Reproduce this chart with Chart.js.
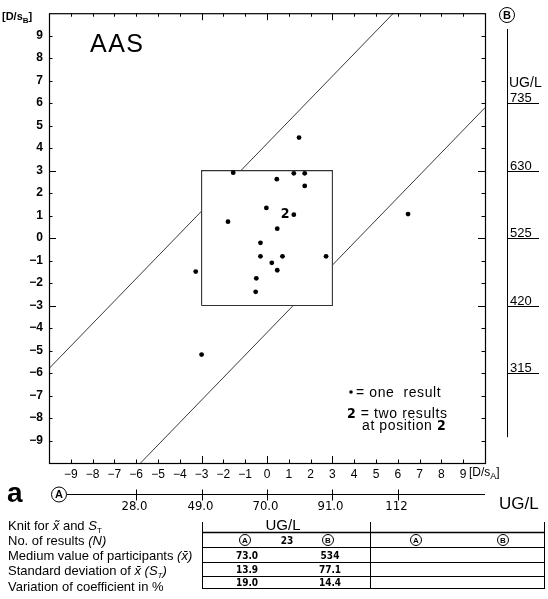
<!DOCTYPE html>
<html><head><meta charset="utf-8">
<script src="https://cdn.jsdelivr.net/npm/chart.js@4.4.1/dist/chart.umd.min.js"></script>
<style>html,body{margin:0;padding:0;background:#fff;overflow:hidden}#wrap{width:548px;height:599px;position:relative}</style>
</head><body><div id="wrap"><canvas id="c" width="548" height="599"></canvas></div>
<script>
// ---- data (D/s units) ----
const resultsX = [-1.55, 0.45, 1.23, 1.73, 1.73, 1.47, -0.03, 1.23, -1.79, 0.47, -0.30, -0.30, 0.71, 2.71, 0.22, 0.47, -0.49, -0.52, -3.27, -3.00, 6.47];
const resultsY = [2.91, 2.62, 2.88, 2.88, 2.32, 4.47, 1.34, 1.04, 0.73, 0.42, -0.21, -0.81, -0.81, -0.81, -1.10, -1.43, -1.79, -2.39, -1.49, -5.18, 1.07];
const doubleX = [0.83];
const doubleY = [1.05];
const doubleCount = ['2'];
const boxX = [-3, 3, 3, -3, -3];
const boxY = [-3, -3, 3, 3, -3];
const upperLineX = [-10, -3, null, -1.2, 5.8];
const upperLineY = [-5.8, 1.2, null, 3, 10];
const lowerLineX = [-5.8, 1.2, null, 3, 10];
const lowerLineY = [-10, -3, null, -1.2, 5.8];
const dTicks = [-9, -8, -7, -6, -5, -4, -3, -2, -1, 0, 1, 2, 3, 4, 5, 6, 7, 8, 9];
const axisAPos = [-6, -3, 0, 3, 6];
const axisALabels = ['28.0', '49.0', '70.0', '91.0', '112'];
const axisBPos = [-6, -3, 0, 3, 6];
const axisBLabels = ['315', '420', '525', '630', '735'];
const nResults = '23';
const valuesA = ['73.0', '13.9', '19.0'];
const valuesB = ['534', '77.1', '14.4'];

// ---- helpers ----
function toPts(xs, ys) { return xs.map((x, i) => ({ x: x, y: ys[i] })); }
function segments(xs, ys) {
  const out = []; let cur = [];
  xs.forEach((x, i) => { if (x === null) { out.push(cur); cur = []; } else cur.push({ x: x, y: ys[i] }); });
  out.push(cur); return out;
}
const F = "'Liberation Sans', Arial, Helvetica, sans-serif";
const FN = "'Liberation Sans Narrow', 'DejaVu Sans Condensed', 'Liberation Sans', sans-serif";

function runs(ctx, x, y, parts) {
  ctx.textBaseline = 'alphabetic'; ctx.textAlign = 'left';
  parts.forEach(p => {
    ctx.font = p.f;
    const dy = p.sub ? 3 : 0;
    ctx.fillText(p.t, x, y + dy);
    x += ctx.measureText(p.t).width;
  });
}
function circ(ctx, cx, cy, r, letter, font) {
  ctx.beginPath(); ctx.arc(cx, cy, r, 0, Math.PI * 2); ctx.lineWidth = 1; ctx.strokeStyle = '#000'; ctx.stroke();
  ctx.font = font; ctx.textAlign = 'center'; ctx.textBaseline = 'middle'; ctx.fillText(letter, cx, cy + 0.5);
}
function minus(v) { return v < 0 ? '\u2212' + (-v) : '' + v; }

const datasets = [
  { label: 'results', data: toPts(resultsX, resultsY), showLine: false, pointRadius: 2.4, pointBackgroundColor: '#000', pointBorderWidth: 0 },
  { label: 'box', data: toPts(boxX, boxY), showLine: true, pointRadius: 0, borderColor: '#333', borderWidth: 1.1, fill: false }
];
segments(upperLineX, upperLineY).concat(segments(lowerLineX, lowerLineY)).forEach(seg => {
  datasets.push({ label: 'limit', data: seg, showLine: true, pointRadius: 0, borderColor: '#222', borderWidth: 0.9, fill: false });
});

const decor = {
  id: 'decor',
  afterDatasetsDraw(chart) {
    const ctx = chart.ctx, a = chart.chartArea, sx = chart.scales.x, sy = chart.scales.y;
    ctx.save();
    ctx.fillStyle = '#000'; ctx.strokeStyle = '#000';
    // frame
    ctx.lineWidth = 1.2;
    ctx.strokeRect(a.left + 0.5, a.top + 0.5, a.right - a.left, a.bottom - a.top);
    // inward ticks
    ctx.lineWidth = 1;
    dTicks.forEach(v => {
      const len = (v === 0 || Math.abs(v) === 3) ? 7 : 3.5;
      const px = Math.round(sx.getPixelForValue(v)) + 0.5, py = Math.round(sy.getPixelForValue(v)) + 0.5;
      ctx.beginPath();
      ctx.moveTo(px, a.bottom); ctx.lineTo(px, a.bottom - len);
      ctx.moveTo(px, a.top); ctx.lineTo(px, a.top + len);
      ctx.moveTo(a.left, py); ctx.lineTo(a.left + len, py);
      ctx.moveTo(a.right, py); ctx.lineTo(a.right - len, py);
      ctx.stroke();
    });
    // axis titles
    runs(ctx, 2, 20, [{ t: '[D/s', f: 'bold 11px ' + F }, { t: 'B', f: 'bold 8px ' + F, sub: true }, { t: ']', f: 'bold 11px ' + F }]);
    runs(ctx, 469, 476, [{ t: '[D/s', f: '12px ' + F }, { t: 'A', f: '9px ' + F, sub: true }, { t: ']', f: '12px ' + F }]);
    // AAS
    ctx.font = '25px ' + F; ctx.textAlign = 'left'; ctx.textBaseline = 'alphabetic';
    if ('letterSpacing' in ctx) ctx.letterSpacing = '1.5px';
    ctx.fillText('AAS', 90, 52);
    if ('letterSpacing' in ctx) ctx.letterSpacing = '0px';
    // double-result markers
    doubleX.forEach((x, i) => {
      ctx.font = 'bold 14px ' + FN; ctx.textAlign = 'center'; ctx.textBaseline = 'middle';
      ctx.fillText(doubleCount[i], sx.getPixelForValue(x), sy.getPixelForValue(doubleY[i]));
    });
    // legend
    if ('letterSpacing' in ctx) ctx.letterSpacing = '0.6px';
    ctx.beginPath(); ctx.arc(351, 392, 1.8, 0, Math.PI * 2); ctx.fill();
    runs(ctx, 356, 397, [{ t: '= one  result', f: '14px ' + F }]);
    runs(ctx, 347, 418, [{ t: '2', f: 'bold 14px ' + FN }, { t: ' = two results', f: '14px ' + F }]);
    runs(ctx, 362, 430, [{ t: 'at position ', f: '14px ' + F }, { t: '2', f: 'bold 14px ' + FN }]);
    if ('letterSpacing' in ctx) ctx.letterSpacing = '0px';
    // B axis
    const xb = a.right + 22;
    ctx.lineWidth = 1;
    ctx.beginPath(); ctx.moveTo(xb + 0.5, sy.getPixelForValue(9.3)); ctx.lineTo(xb + 0.5, sy.getPixelForValue(-8.85)); ctx.stroke();
    ctx.fillStyle = '#000';
    circ(ctx, xb, 15, 7.5, 'B', 'bold 11px ' + F);
    axisBPos.forEach((v, i) => {
      const py = Math.round(sy.getPixelForValue(v)) + 0.5;
      ctx.beginPath(); ctx.moveTo(xb, py); ctx.lineTo(xb + 32, py); ctx.stroke();
      ctx.font = '13px ' + F; ctx.textAlign = 'left'; ctx.textBaseline = 'alphabetic';
      ctx.fillText(axisBLabels[i], xb + 3, py - 2);
    });
    ctx.font = '14px ' + F; ctx.textAlign = 'left'; ctx.textBaseline = 'alphabetic';
    ctx.fillText('UG/L', xb + 2, sy.getPixelForValue(6) - 16);
    // A axis
    const ya = 494.5;
    ctx.font = 'bold 28px ' + F; ctx.textAlign = 'left'; ctx.textBaseline = 'alphabetic';
    ctx.fillText('a', 7, 502);
    circ(ctx, 59, ya, 7.5, 'A', 'bold 11px ' + F);
    ctx.beginPath(); ctx.moveTo(67, ya); ctx.lineTo(a.right, ya); ctx.stroke();
    axisAPos.forEach((v, i) => {
      const px = Math.round(sx.getPixelForValue(v)) + 0.5;
      ctx.beginPath(); ctx.moveTo(px, ya - 5); ctx.lineTo(px, ya + 6); ctx.stroke();
      ctx.font = '13px ' + FN; ctx.textAlign = 'center'; ctx.textBaseline = 'alphabetic';
      ctx.fillText(axisALabels[i], px - 2, ya + 15);
    });
    ctx.font = '17px ' + F; ctx.textAlign = 'left';
    ctx.fillText('UG/L', 499, 509);
    // left row labels
    const f12 = '13px ' + F, i12 = 'italic 13px ' + F;
    runs(ctx, 8, 530, [{ t: 'Knit for ', f: f12 }, { t: 'x\u0303', f: i12 }, { t: ' and ', f: f12 }, { t: 'S', f: i12 }, { t: 'T', f: '8px ' + F, sub: true }]);
    runs(ctx, 8, 545, [{ t: 'No. of results ', f: f12 }, { t: '(N)', f: i12 }]);
    runs(ctx, 8, 560, [{ t: 'Medium value of participants ', f: f12 }, { t: '(x\u0304)', f: i12 }]);
    runs(ctx, 8, 575, [{ t: 'Standard deviation of ', f: f12 }, { t: 'x\u0304', f: i12 }, { t: ' (S', f: i12 }, { t: 'T', f: 'italic 8px ' + F, sub: true }, { t: ')', f: i12 }]);
    runs(ctx, 8, 591, [{ t: 'Variation of coefficient in %', f: f12 }]);
    // table
    const L = 202.5, M = 370.5, R = 544.5;
    ctx.lineWidth = 1;
    [L, M, R].forEach(x => { ctx.beginPath(); ctx.moveTo(x, 522); ctx.lineTo(x, 589); ctx.stroke(); });
    [[532.5, 1.6], [547.5, 1], [562.5, 1], [576.5, 1], [588.5, 1]].forEach(([y, w]) => {
      ctx.lineWidth = w; ctx.beginPath(); ctx.moveTo(L, y); ctx.lineTo(R, y); ctx.stroke();
    });
    ctx.font = '15px ' + F; ctx.textAlign = 'center'; ctx.textBaseline = 'alphabetic';
    ctx.fillText('UG/L', 283, 530);
    circ(ctx, 245, 540, 5.5, 'A', 'bold 8px ' + F);
    circ(ctx, 328, 540, 5.5, 'B', 'bold 8px ' + F);
    circ(ctx, 416, 540, 5.5, 'A', 'bold 8px ' + F);
    circ(ctx, 503, 540, 5.5, 'B', 'bold 8px ' + F);
    ctx.font = 'bold 10px ' + FN; ctx.textAlign = 'center'; ctx.textBaseline = 'alphabetic';
    ctx.fillText(nResults, 287, 544);
    const rowY = [559, 573, 586];
    valuesA.forEach((t, i) => ctx.fillText(t, 247, rowY[i]));
    valuesB.forEach((t, i) => ctx.fillText(t, 330, rowY[i]));
    ctx.restore();
  }
};

new Chart(document.getElementById('c'), {
  type: 'scatter',
  data: { datasets: datasets },
  options: {
    responsive: false, animation: false, devicePixelRatio: 1,
    layout: { padding: { top: 13, right: 63, left: 0, bottom: 0 } },
    plugins: { legend: { display: false }, tooltip: { enabled: false } },
    scales: {
      x: {
        type: 'linear', position: 'bottom', min: -10, max: 10,
        grid: { display: false, drawTicks: false }, border: { display: false },
        afterBuildTicks: s => { s.ticks = dTicks.map(v => ({ value: v })); },
        afterFit: s => { s.height = 136; },
        ticks: { color: '#000', padding: 4, autoSkip: false, maxRotation: 0, font: { family: F, size: 12 }, callback: v => minus(v) }
      },
      y: {
        type: 'linear', position: 'left', min: -10, max: 10,
        grid: { display: false, drawTicks: false }, border: { display: false },
        afterBuildTicks: s => { s.ticks = dTicks.map(v => ({ value: v })); },
        afterFit: s => { s.width = 49; },
        ticks: { color: '#000', padding: 6, autoSkip: false, font: { family: F, size: 12, weight: 'bold' }, callback: v => minus(v) }
      }
    }
  },
  plugins: [decor]
});
</script></body></html>
